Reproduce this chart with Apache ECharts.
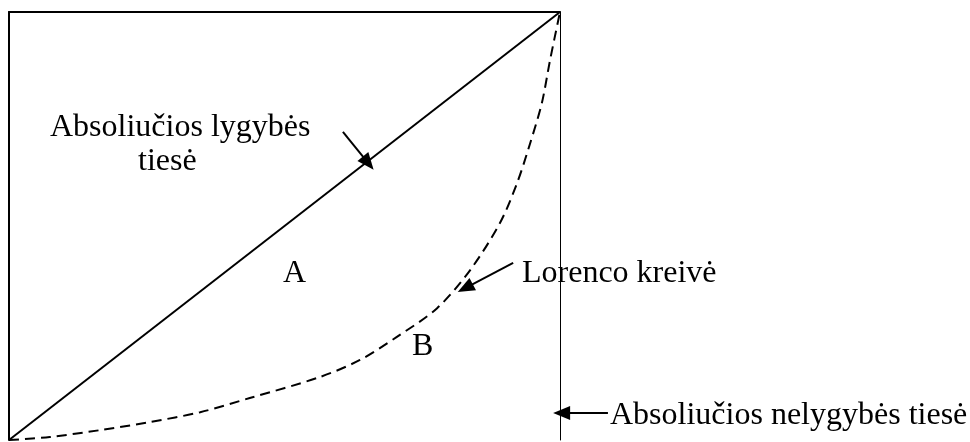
<!DOCTYPE html>
<html><head><meta charset="utf-8">
<script src="https://cdn.jsdelivr.net/npm/echarts@6/dist/echarts.min.js"></script>
<style>html,body{margin:0;padding:0;background:#fff}#c{width:970px;height:442px}</style>
</head><body><div id="c"></div>
<script>
// Data (percent of population vs percent of income)
const equalityLine = [[0, 0], [100, 100]];
const lorenzX = [0, 7.4, 16.5, 25.6, 34.7, 43.7, 56.4, 63.7, 70.4, 77.7, 83.7, 89.1, 92.2, 94.6, 96.7, 98.2, 100];
const lorenzY = [0, 0.7, 2.3, 4.2, 6.5, 9.8, 14.7, 18.7, 24.1, 30.8, 39.7, 50.7, 60.0, 69.4, 78.7, 88.8, 100];
const arrowEquality = [[60.6, 72.0], [65.2, 64.7]];
const arrowLorenz = [[91.5, 41.4], [82.8, 35.5]];
const arrowInequality = [[108.7, 6.3], [100.3, 6.3]];
const labels = ["Absoliučios lygybės", "tiesė", "A", "B", "Lorenco kreivė", "Absoliučios nelygybės tiesė"];

const FONT = "32px 'Liberation Serif', 'Times New Roman', serif";
const chart = echarts.init(document.getElementById('c'), null, {renderer: 'canvas'});

function arrow(pts) {
  return [{coord: pts[0], symbol: 'none'}, {coord: pts[1], symbol: 'triangle', symbolSize: [14, 17]}];
}
const hidden = {axisLine: {show: false}, axisTick: {show: false}, axisLabel: {show: false}, splitLine: {show: false}};
// second (overlay) grid spans to the right edge with the same scale as the main plot
const mainLeft = 9, mainRight = 560, W = 970;
const overlayMax = (W - mainLeft) / (mainRight - mainLeft) * 100;

chart.setOption({
  animation: false,
  grid: [
    {left: mainLeft, right: W - mainRight, top: 12, bottom: 2},
    {left: mainLeft, right: 0, top: 12, bottom: 2}
  ],
  xAxis: [
    {type: 'value', min: 0, max: 100, position: 'top', gridIndex: 0,
      axisLine: {show: true, onZero: false, lineStyle: {color: '#000', width: 2}},
      axisTick: {show: false}, axisLabel: {show: false}, splitLine: {show: false}},
    Object.assign({type: 'value', min: 0, max: overlayMax, gridIndex: 1}, hidden)
  ],
  yAxis: [
    {type: 'value', min: 0, max: 100, position: 'left', gridIndex: 0,
      axisLine: {show: true, onZero: false, lineStyle: {color: '#000', width: 2}},
      axisTick: {show: false}, axisLabel: {show: false}, splitLine: {show: false}},
    {type: 'value', min: 0, max: 100, position: 'right', gridIndex: 0,
      axisLine: {show: true, onZero: false, lineStyle: {color: '#000', width: 1}},
      axisTick: {show: false}, axisLabel: {show: false}, splitLine: {show: false}},
    Object.assign({type: 'value', min: 0, max: 100, gridIndex: 1}, hidden)
  ],
  series: [
    {type: 'line', data: equalityLine, symbol: 'none', clip: false,
      lineStyle: {color: '#000', width: 2}},
    {type: 'line', data: lorenzX.map((x, i) => [x, lorenzY[i]]), symbol: 'none', smooth: 0.3,
      clip: false, lineStyle: {color: '#000', width: 2, type: [10, 6]}},
    {type: 'line', xAxisIndex: 1, yAxisIndex: 2, data: [], symbol: 'none', clip: false,
      markLine: {silent: true, animation: false,
        lineStyle: {color: '#000', width: 2, type: 'solid'}, label: {show: false},
        data: [arrow(arrowEquality), arrow(arrowLorenz), arrow(arrowInequality)]}}
  ],
  graphic: [
    {type: 'text', left: 50, top: 112, style: {text: labels[0], font: FONT, fill: '#000'}},
    {type: 'text', left: 138, top: 146, style: {text: labels[1], font: FONT, fill: '#000'}},
    {type: 'text', left: 283, top: 258, style: {text: labels[2], font: FONT, fill: '#000'}},
    {type: 'text', left: 412, top: 331, style: {text: labels[3], font: FONT, fill: '#000'}},
    {type: 'text', left: 522, top: 258, style: {text: labels[4], font: FONT, fill: '#000'}},
    {type: 'text', left: 610, top: 400, style: {text: labels[5], font: FONT, fill: '#000'}}
  ]
});
</script></body></html>
